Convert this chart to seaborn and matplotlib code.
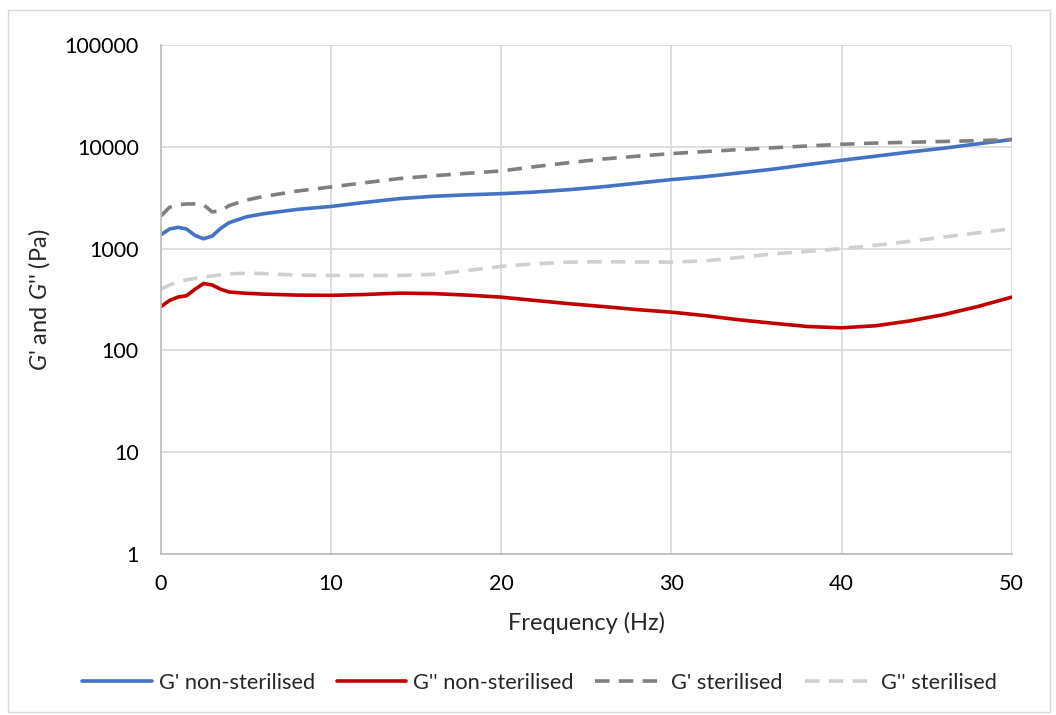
import matplotlib
matplotlib.use("Agg")
import matplotlib.pyplot as plt
from matplotlib.patches import Rectangle
from matplotlib.ticker import FixedLocator, NullLocator
import seaborn as sns

# frequency (Hz) and moduli (Pa)
freq = [0, 0.5, 1, 1.5, 2, 2.5, 3, 3.5, 4, 5, 6, 8, 10, 12, 14, 16, 18, 20,
        22, 24, 26, 28, 30, 32, 34, 36, 38, 40, 42, 44, 46, 48, 50]

g1_non = [1372, 1560, 1620, 1560, 1350, 1250, 1330, 1580, 1800, 2050, 2200, 2430,
          2600, 2850, 3100, 3270, 3380, 3470, 3600, 3800, 4060, 4400, 4770, 5100,
          5550, 6050, 6700, 7380, 8100, 8900, 9700, 10700, 11800]
g2_non = [270, 310, 335, 345, 400, 455, 440, 400, 375, 365, 358, 350,
          348, 355, 366, 362, 350, 334, 310, 288, 270, 252, 238, 220,
          200, 185, 172, 167, 175, 195, 225, 270, 334]
g1_ster = [2100, 2550, 2700, 2750, 2750, 2700, 2300, 2350, 2650, 3000, 3250, 3680,
           4040, 4450, 4880, 5200, 5500, 5800, 6400, 7000, 7600, 8100, 8590, 9000,
           9400, 9800, 10200, 10600, 10900, 11100, 11300, 11500, 11800]
g2_ster = [400, 440, 470, 495, 510, 525, 540, 555, 565, 575, 570, 550,
           546, 546, 546, 560, 610, 670, 710, 738, 745, 740, 738, 760,
           820, 890, 940, 1000, 1080, 1180, 1300, 1430, 1570]

series = [
    ("G' non-sterilised", g1_non, "#4472c4", "-"),
    ("G'' non-sterilised", g2_non, "#c00000", "-"),
    ("G' sterilised", g1_ster, "#7f7f7f", (0, (4, 2.6))),
    ("G'' sterilised", g2_ster, "#d0d0d0", (0, (4, 2.6))),
]

y_ticks = [1, 10, 100, 1000, 10000, 100000]
x_ticks = [0, 10, 20, 30, 40, 50]

sns.set_style("white")
plt.rcParams["font.family"] = ["Lato", "DejaVu Sans"]
plt.rcParams["mathtext.fontset"] = "custom"
plt.rcParams["mathtext.it"] = "Lato:italic"
plt.rcParams["mathtext.rm"] = "Lato"

fig = plt.figure(figsize=(10.56, 7.15), dpi=100)
ax = fig.add_axes([0.1525, 0.225, 0.8055, 0.712])

for name, vals, color, ls in series:
    sns.lineplot(x=freq, y=vals, ax=ax, color=color, linestyle=ls,
                 linewidth=2.6, label=name)

ax.set_yscale("log")
ax.set_xlim(0, 50)
ax.set_ylim(1, 100000)
ax.yaxis.set_major_locator(FixedLocator(y_ticks))
ax.yaxis.set_minor_locator(NullLocator())
ax.set_yticklabels([str(v) for v in y_ticks])
ax.xaxis.set_major_locator(FixedLocator(x_ticks))
ax.set_xticklabels([str(v) for v in x_ticks])
ax.tick_params(axis="both", length=0, labelsize=15.5, colors="#000000")
ax.tick_params(axis="x", pad=14)
ax.tick_params(axis="y", pad=16)

ax.grid(True, which="major", color="#d9d9d9", linewidth=1.2)
ax.set_axisbelow(True)
for side in ["top", "right"]:
    ax.spines[side].set_visible(False)
for side in ["left", "bottom"]:
    ax.spines[side].set_color("#bfbfbf")
    ax.spines[side].set_linewidth(1.3)

ax.set_xlabel("Frequency (Hz)", fontsize=17, labelpad=13)
ax.set_ylabel("$G$' and $G$'' (Pa)", fontsize=17, labelpad=9)

# legend centred on the whole chart, like Excel does
ax.legend(loc="center", bbox_to_anchor=(0.511, 0.045), bbox_transform=fig.transFigure,
          ncol=4, frameon=False, fontsize=15.7, handlelength=3.2, handletextpad=0.3,
          columnspacing=1.0)

# outer chart border
fig.patches.append(Rectangle((0.008, 0.004), 0.986, 0.982, transform=fig.transFigure,
                             fill=False, edgecolor="#d9d9d9", linewidth=1))

fig.savefig("out.png", dpi=100)
